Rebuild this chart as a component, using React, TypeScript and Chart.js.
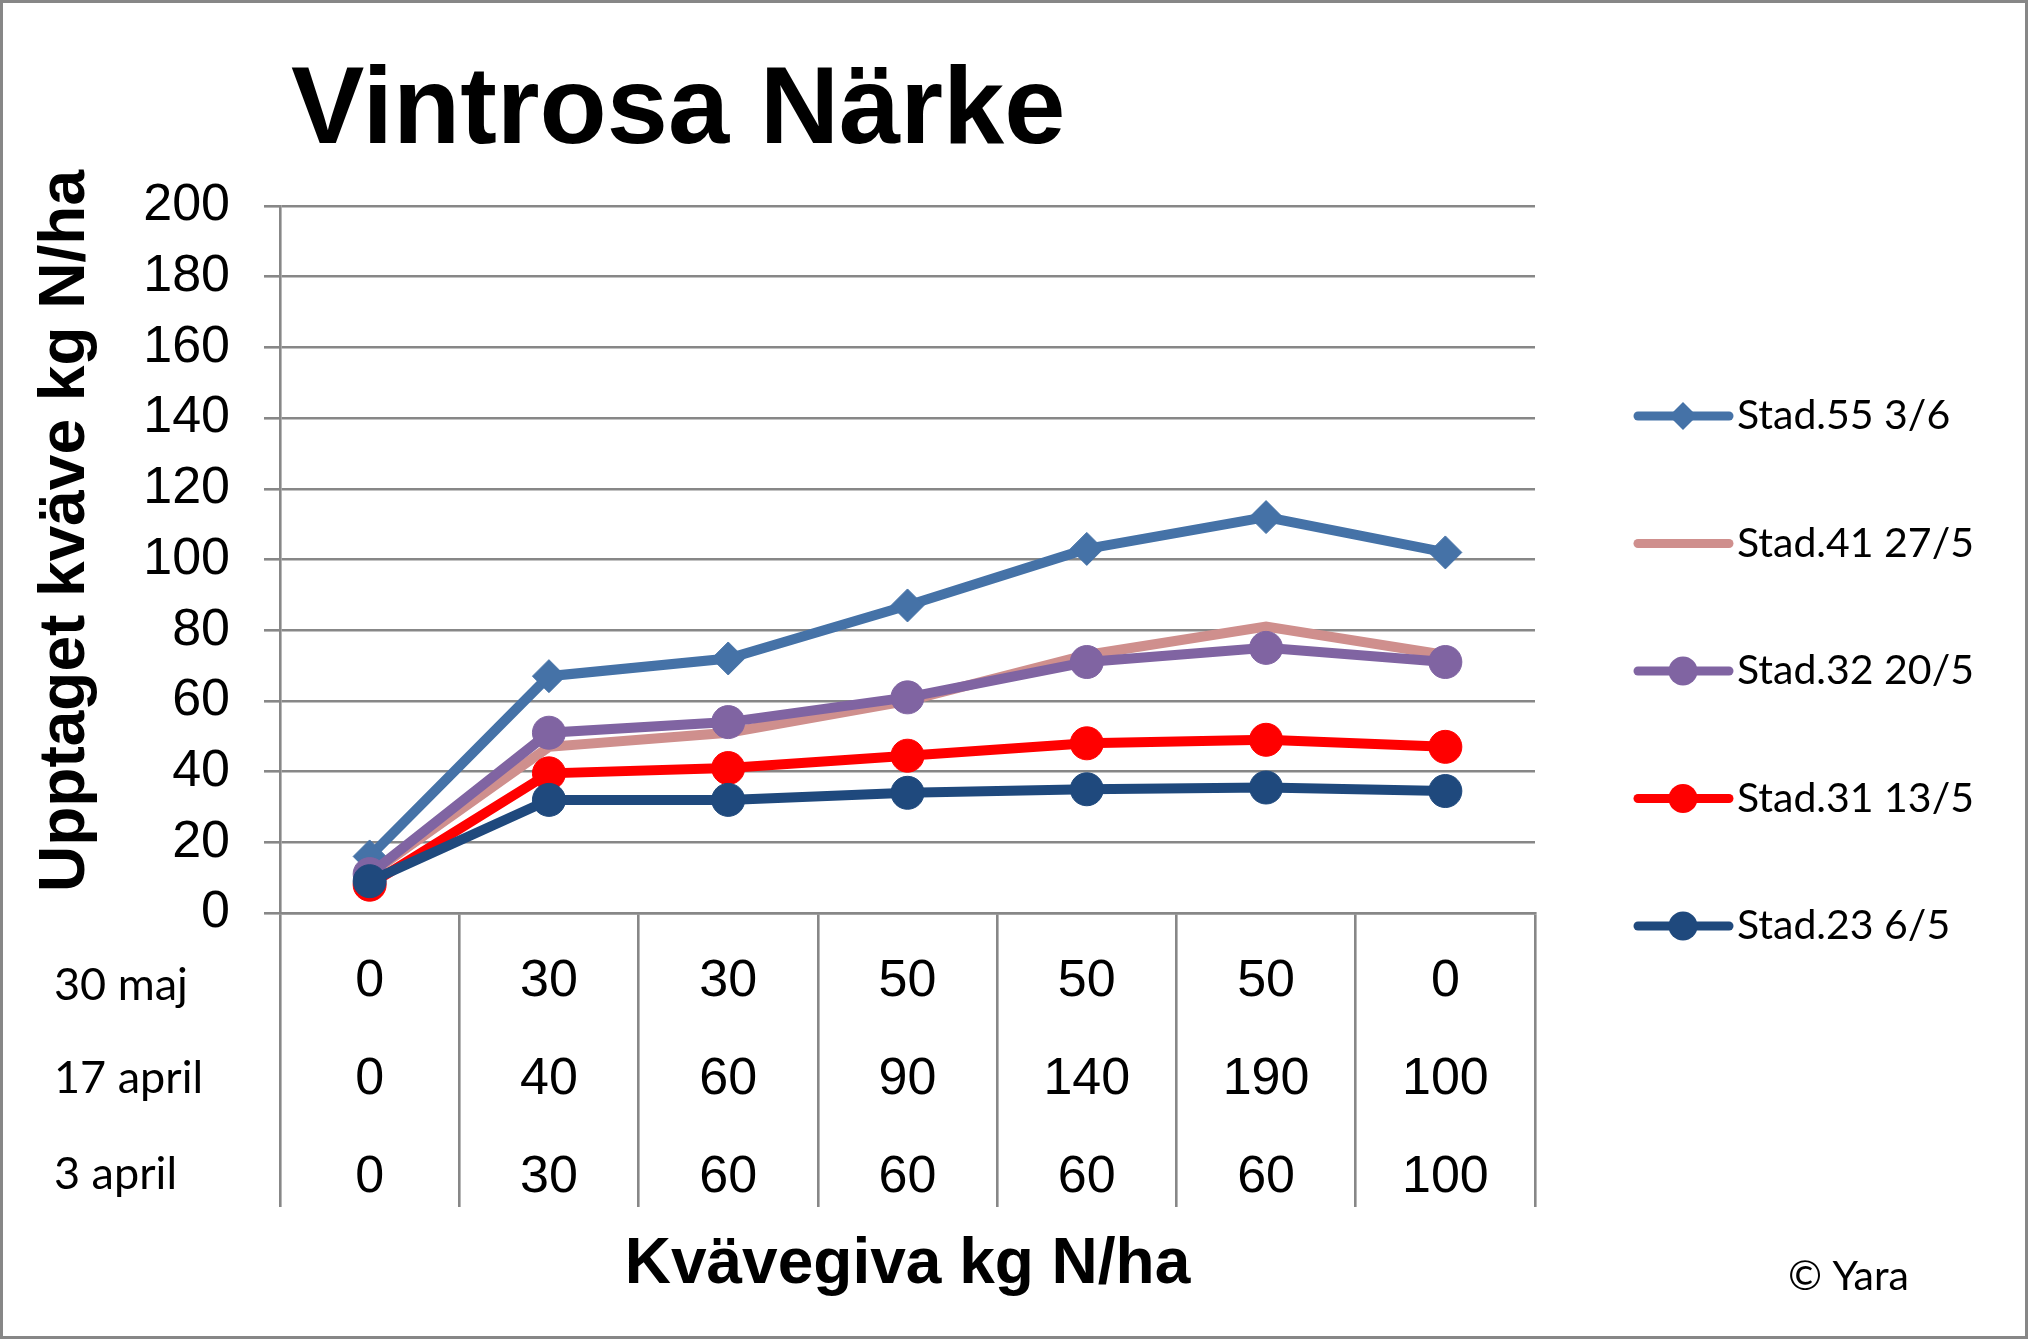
import React, { useEffect, useRef } from "react";
import { Chart, registerables } from "chart.js";

Chart.register(...registerables);

// Fertiliser doses (kg N/ha) per application date, one entry per treatment
const rowNames = ["30 maj", "17 april", "3 april"];
const dosesMay30 = ["0", "30", "30", "50", "50", "50", "0"];
const dosesApr17 = ["0", "40", "60", "90", "140", "190", "100"];
const dosesApr3 = ["0", "30", "60", "60", "60", "60", "100"];

// Nitrogen uptake (kg N/ha) at each growth stage
const stad55 = [16, 67, 72, 87, 103, 112, 102];
const stad41 = [11, 47, 51, 60, 73, 81, 73];
const stad32 = [11, 51, 54, 61, 71, 75, 71];
const stad31 = [8, 39.5, 41, 44.5, 48, 49, 47];
const stad23 = [9, 32, 32, 34, 35, 35.5, 34.5];

const seriesNames = ["Stad.55 3/6", "Stad.41 27/5", "Stad.32 20/5", "Stad.31 13/5", "Stad.23 6/5"];
const seriesColors = ["#4572A7", "#CF8F8D", "#8064A2", "#FF0000", "#1F497D"];
const seriesValues = [stad55, stad41, stad32, stad31, stad23];
const seriesMarkers = ["rectRot", "none", "circle", "circle", "circle"];

const yTicksMin = 0;
const yTicksMax = 200;
const yTicksStep = 20;

const TITLE = "Vintrosa Närke";
const Y_TITLE = "Upptaget kväve kg N/ha";
const X_TITLE = "Kvävegiva kg N/ha";
const COPYRIGHT = "© Yara";

const ARIAL = "'Liberation Sans', Arial, sans-serif";
const HUMANIST = "Lato, 'Noto Sans', sans-serif";
const GRID = "#878787";

const categories = dosesMay30.map((_, i) => [dosesMay30[i], dosesApr17[i], dosesApr3[i]]);

function drawMarker(ctx: CanvasRenderingContext2D, style: string, x: number, y: number, r: number) {
  ctx.beginPath();
  if (style === "rectRot") {
    ctx.moveTo(x - r, y);
    ctx.lineTo(x, y - r);
    ctx.lineTo(x + r, y);
    ctx.lineTo(x, y + r);
    ctx.closePath();
  } else {
    ctx.arc(x, y, r, 0, Math.PI * 2);
  }
  ctx.fill();
}

const decorPlugin = {
  id: "decor",
  afterDraw(chart: any) {
    const ctx: CanvasRenderingContext2D = chart.ctx;
    ctx.save();

    // outer frame
    ctx.strokeStyle = GRID;
    ctx.lineWidth = 3;
    ctx.strokeRect(1.5, 1.5, chart.width - 3, chart.height - 3);

    // main title
    ctx.fillStyle = "#000";
    ctx.font = `bold 110px ${ARIAL}`;
    ctx.textAlign = "left";
    ctx.textBaseline = "alphabetic";
    ctx.fillText(TITLE, 291, 143);

    // vertical axis title
    ctx.save();
    ctx.translate(84, 531);
    ctx.rotate(-Math.PI / 2);
    ctx.font = `bold 64px ${ARIAL}`;
    ctx.textAlign = "center";
    ctx.textBaseline = "alphabetic";
    ctx.fillText(Y_TITLE, 0, 0);
    ctx.restore();

    // names of the dose rows under the x axis
    ctx.font = `45px ${HUMANIST}`;
    ctx.textAlign = "left";
    ctx.textBaseline = "middle";
    const rowY = [985, 1078, 1174];
    rowNames.forEach((name, i) => ctx.fillText(name, 54, rowY[i]));

    // legend: line with marker, then label
    const order = chart.data.datasets.slice().reverse();
    order.forEach((ds: any, i: number) => {
      const y = 416 + i * 127.5;
      ctx.strokeStyle = ds.borderColor;
      ctx.fillStyle = ds.borderColor;
      ctx.lineWidth = 9;
      ctx.lineCap = "round";
      ctx.beginPath();
      ctx.moveTo(1638, y);
      ctx.lineTo(1729, y);
      ctx.stroke();
      if (ds.pointRadius > 0) {
        drawMarker(ctx, ds.pointStyle, 1683, y, ds.pointStyle === "rectRot" ? 14 : 14.5);
      }
      ctx.fillStyle = "#000";
      ctx.font = `41px ${HUMANIST}`;
      ctx.textAlign = "left";
      ctx.textBaseline = "middle";
      ctx.fillText(ds.label, 1737, y);
    });

    ctx.font = `41px ${HUMANIST}`;
    ctx.fillText(COPYRIGHT, 1788, 1277);

    ctx.restore();
  },
};

export default function App() {
  const canvasRef = useRef<HTMLCanvasElement | null>(null);

  useEffect(() => {
    const canvas = canvasRef.current;
    if (!canvas) return;

    // drawn bottom-up so the lowest stage sits on top
    const datasets = seriesNames
      .map((name, i) => ({
        label: name,
        data: seriesValues[i],
        borderColor: seriesColors[i],
        backgroundColor: seriesColors[i],
        pointBackgroundColor: seriesColors[i],
        pointBorderColor: seriesColors[i],
        borderWidth: 10,
        pointStyle: seriesMarkers[i] === "none" ? "circle" : seriesMarkers[i],
        pointRadius: seriesMarkers[i] === "none" ? 0 : 16.5,
        pointBorderWidth: 1,
        tension: 0,
        fill: false,
      }))
      .reverse();

    const chart = new Chart(canvas, {
      type: "line",
      data: { labels: categories, datasets },
      plugins: [decorPlugin],
      options: {
        animation: false,
        responsive: false,
        devicePixelRatio: 1,
        events: [],
        layout: { padding: { top: 206, right: 493, left: 0, bottom: 0 } },
        plugins: {
          legend: { display: false },
          tooltip: { enabled: false },
          title: { display: false },
        },
        scales: {
          x: {
            type: "category",
            offset: true,
            afterFit: (scale: any) => {
              scale.height = 426;
            },
            border: { display: true, color: GRID, width: 2.6 },
            grid: {
              offset: true,
              drawOnChartArea: false,
              drawTicks: true,
              tickLength: 294,
              color: GRID,
              lineWidth: 2.6,
            },
            ticks: {
              autoSkip: false,
              maxRotation: 0,
              minRotation: 0,
              padding: -274,
              color: "#000",
              font: { family: ARIAL, size: 52, lineHeight: 98 / 52 },
            },
            title: {
              display: true,
              text: X_TITLE,
              color: "#000",
              font: { family: ARIAL, size: 64, weight: "bold", lineHeight: 1.2 },
              padding: { top: 0, bottom: 34.8 },
            },
          },
          y: {
            min: yTicksMin,
            max: yTicksMax,
            afterFit: (scale: any) => {
              scale.width = 280;
            },
            border: { display: true, color: GRID, width: 2.6 },
            grid: {
              color: GRID,
              lineWidth: 2.6,
              drawTicks: true,
              tickLength: 16,
            },
            ticks: {
              stepSize: yTicksStep,
              padding: 34,
              color: "#000",
              font: { family: ARIAL, size: 52 },
            },
          },
        },
      },
    } as any);

    return () => chart.destroy();
  }, []);

  return (
    <div style={{ position: "fixed", left: 0, top: 0, width: 2028, height: 1339, background: "#fff" }}>
      <canvas ref={canvasRef} width={2028} height={1339} style={{ display: "block" }} />
    </div>
  );
}
